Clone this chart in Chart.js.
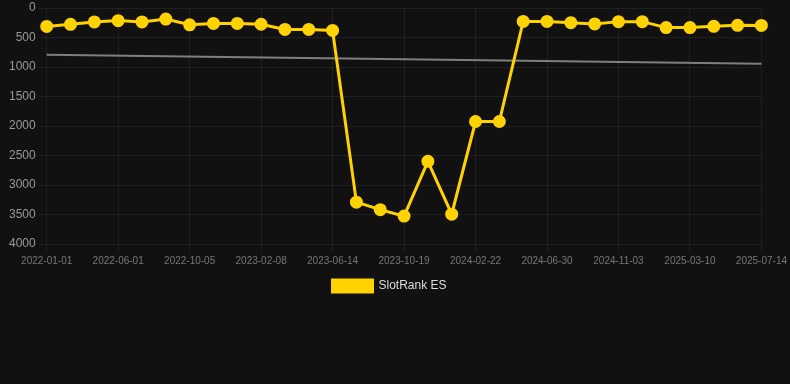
<!DOCTYPE html>
<html>
<head>
<meta charset="utf-8">
<script src="https://cdn.jsdelivr.net/npm/chart.js@4"></script>
<style>
  html, body { margin: 0; padding: 0; background: #111111; }
  #wrap { width: 790px; height: 384px; }
</style>
</head>
<body>
<div id="wrap"><canvas id="c" width="790" height="384"></canvas></div>
<script>
const categories = [
  "2022-01-01","2022-02-20","2022-04-11","2022-06-01","2022-07-14","2022-08-24",
  "2022-10-05","2022-11-16","2022-12-28","2023-02-08","2023-03-22","2023-05-03",
  "2023-06-14","2023-07-26","2023-09-07","2023-10-19","2023-11-30","2024-01-11",
  "2024-02-22","2024-04-05","2024-05-18","2024-06-30","2024-08-11","2024-09-22",
  "2024-11-03","2024-12-15","2025-01-27","2025-03-10","2025-04-21","2025-06-02",
  "2025-07-14"
];
const rankES = [
  312, 276, 236, 214, 236, 188, 285, 262, 262, 275, 363, 363,
  380, 3291, 3418, 3527, 2599, 3494, 1924, 1924, 228, 228, 248, 270,
  231, 231, 332, 332, 310, 293, 296
];
const trend = [793, null, null, null, null, null, null, null, null, null, null, null,
  null, null, null, null, null, null, null, null, null, null, null, null,
  null, null, null, null, null, null, 945];
const yTicks = [0, 500, 1000, 1500, 2000, 2500, 3000, 3500, 4000];

new Chart(document.getElementById('c'), {
  type: 'line',
  data: {
    labels: categories,
    datasets: [
      {
        label: 'SlotRank ES',
        data: rankES,
        borderColor: '#FFD200',
        backgroundColor: '#FFD200',
        borderWidth: 3,
        pointRadius: 5,
        pointHoverRadius: 5,
        tension: 0
      },
      {
        label: 'trend',
        data: trend,
        borderColor: 'rgba(140,140,140,0.9)',
        borderWidth: 2,
        pointRadius: 0,
        spanGaps: true,
        tension: 0
      }
    ]
  },
  options: {
    responsive: false,
    animation: false,
    layout: { padding: { top: 0, left: 6, bottom: 82, right: 17 } },
    plugins: {
      legend: {
        position: 'bottom',
        labels: {
          color: '#dddddd',
          font: { family: 'Liberation Sans, Arial, sans-serif', size: 12 },
          boxWidth: 40,
          boxHeight: 12,
          filter: (item) => item.text !== 'trend'
        }
      },
      tooltip: { enabled: false }
    },
    scales: {
      x: {
        grid: { color: 'rgba(255,255,255,0.06)' },
        border: { display: false },
        ticks: {
          color: '#777777',
          font: { family: 'Liberation Sans, Arial, sans-serif', size: 10 },
          maxRotation: 0,
          autoSkip: true
        }
      },
      y: {
        reverse: true,
        min: 0,
        max: 4000,
        afterBuildTicks: (axis) => { axis.ticks = yTicks.map(v => ({ value: v })); },
        grid: { color: 'rgba(255,255,255,0.06)' },
        border: { display: false },
        ticks: {
          color: '#999999',
          font: { family: 'Liberation Sans, Arial, sans-serif', size: 12, lineHeight: 0.5 },
          callback: (v) => String(v)
        }
      }
    }
  }
});
</script>
</body>
</html>
